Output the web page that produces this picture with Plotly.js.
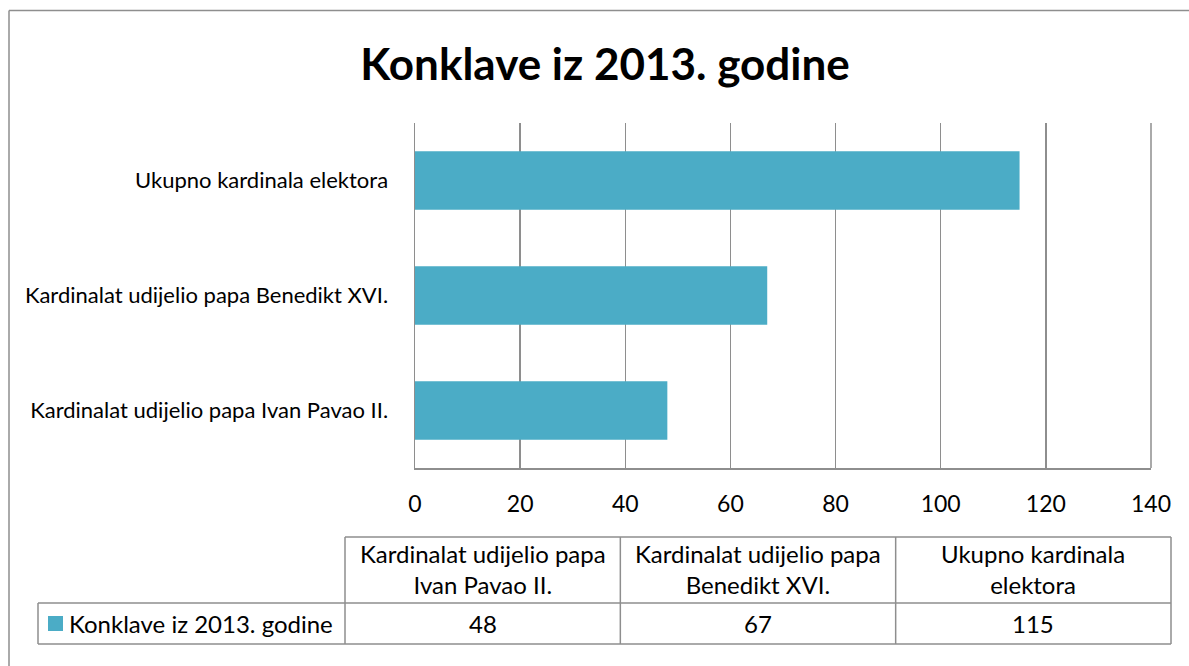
<!DOCTYPE html>
<html>
<head>
<meta charset="utf-8">
<script src="https://cdn.plot.ly/plotly-3.0.1.min.js"></script>
<style>html,body{margin:0;padding:0;background:#fff;}#chart{width:1189px;height:666px;}</style>
</head>
<body>
<div id="chart"></div>
<script>
const chartTitle = "Konklave iz 2013. godine";
const seriesName = "Konklave iz 2013. godine";
const categories = ["Kardinalat udijelio papa Ivan Pavao II.", "Kardinalat udijelio papa Benedikt XVI.", "Ukupno kardinala elektora"];
const values = [48, 67, 115];
const xTicks = [0, 20, 40, 60, 80, 100, 120, 140];

const W = 1189, H = 666;
const M = {l: 415, r: 38, t: 123, b: 198};
const PW = W - M.l - M.r, PH = H - M.t - M.b;
const px = x => (x - M.l) / PW;
const py = y => (H - M.b - y) / PH;
const FONT = "Lato, 'Open Sans', sans-serif";
const LINE = "#8e8e8e";
const BAR = "#4bacc6";
const TFS = 24;

function wrap(s, max) {
  const words = s.split(" "); const lines = []; let cur = "";
  for (const w of words) {
    if (cur && (cur + " " + w).length > max) { lines.push(cur); cur = w; }
    else cur = cur ? cur + " " + w : w;
  }
  if (cur) lines.push(cur);
  return lines.join("<br>");
}

const shapes = [];
const annotations = [];
function line(x0, y0, x1, y1) {
  shapes.push({type: "line", xref: "paper", yref: "paper", x0: px(x0), y0: py(y0), x1: px(x1), y1: py(y1), line: {color: LINE, width: 1.5}});
}
// outer chart border
line(9, 10.5, 1195, 10.5);
line(9, 10.5, 9, 670);
// right edge gridline of plot area
shapes.push({type: "line", xref: "paper", yref: "paper", x0: 1, x1: 1, y0: 0, y1: 1, line: {color: LINE, width: 1.5}});
// data table
const tTop = 537, tMid = 603, tBot = 644, legL = 38, colL = 345, colR = 1171;
const colW = (colR - colL) / categories.length;
line(colL, tTop, colR, tTop);
line(legL, tMid, colR, tMid);
line(legL, tBot, colR, tBot);
line(legL, tMid, legL, tBot);
for (let i = 0; i <= categories.length; i++) line(colL + i * colW, tTop, colL + i * colW, tBot);
categories.forEach((c, i) => {
  const cx = colL + (i + 0.5) * colW;
  annotations.push({xref: "paper", yref: "paper", x: px(cx), y: py((tTop + tMid) / 2 - 1.5), text: wrap(c, 24), showarrow: false, xanchor: "center", yanchor: "middle", font: {family: FONT, size: TFS, color: "#000"}});
  annotations.push({xref: "paper", yref: "paper", x: px(cx), y: py((tMid + tBot) / 2), text: String(values[i]), showarrow: false, xanchor: "center", yanchor: "middle", font: {family: FONT, size: TFS, color: "#000"}});
});
// legend key
shapes.push({type: "rect", xref: "paper", yref: "paper", x0: px(48), x1: px(63), y0: py(616), y1: py(631), fillcolor: BAR, line: {width: 0}});
annotations.push({xref: "paper", yref: "paper", x: px(67), y: py((tMid + tBot) / 2), text: seriesName, showarrow: false, xanchor: "left", yanchor: "middle", font: {family: FONT, size: TFS, color: "#000"}});

const data = [{
  type: "bar", orientation: "h", y: categories, x: values, name: seriesName,
  marker: {color: BAR}, hoverinfo: "x+y"
}];

const layout = {
  width: W, height: H, margin: M, paper_bgcolor: "#fff", plot_bgcolor: "#fff",
  showlegend: false, bargap: 0.49,
  title: {text: chartTitle, font: {family: FONT, size: 44, color: "#000", weight: "bold"}, x: 605 / W, xanchor: "center", xref: "container", y: 1 - 65 / H, yanchor: "middle", yref: "container"},
  xaxis: {range: [0, 140], tickvals: xTicks, ticktext: xTicks.map(String), showgrid: true, gridcolor: LINE, gridwidth: 1.5, zeroline: false,
    showline: true, linecolor: LINE, linewidth: 1.5, ticks: "", ticklabelstandoff: 15, tickfont: {family: FONT, size: 23, color: "#000"}, fixedrange: true},
  yaxis: {showline: true, linecolor: LINE, linewidth: 1.5, ticks: "", showgrid: false, zeroline: false, ticklabelstandoff: 21,
    tickfont: {family: FONT, size: 22, color: "#000"}, fixedrange: true},
  shapes: shapes, annotations: annotations
};

Plotly.newPlot("chart", data, layout, {displayModeBar: false, staticPlot: true});
</script>
</body>
</html>
